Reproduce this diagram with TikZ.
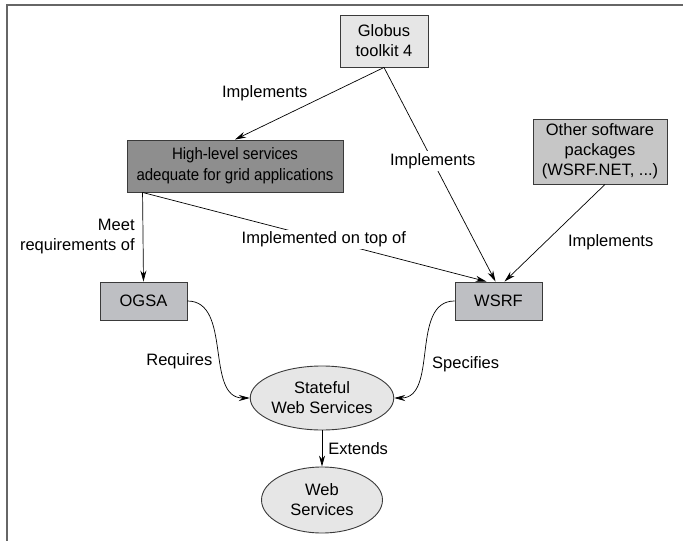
\documentclass[tikz,border=0pt]{standalone}
\usepackage{fontspec}
\setmainfont{Liberation Sans}
\newfontfamily\narrowfont[FakeStretch=0.91]{Liberation Sans}
\usetikzlibrary{arrows.meta,shapes.geometric}
\definecolor{edgegray}{HTML}{3A3A3A}
\definecolor{lightfill}{HTML}{E6E6E6}
\definecolor{darkfill}{HTML}{8E8E8E}
\definecolor{midfill}{HTML}{C6C6C6}
\definecolor{specfill}{HTML}{BEBFC3}
\begin{document}
\begin{tikzpicture}[x=1pt,y=-1pt,
    font=\fontsize{16.5}{20}\selectfont,
    >={Stealth[length=11pt,width=6pt]},
    block/.style ={rectangle, draw=edgegray, line width=0.9pt, align=center, inner sep=0pt},
    service/.style ={ellipse, draw=edgegray, line width=0.9pt, fill=lightfill, align=center,
                     inner sep=0pt, minimum width=121pt, minimum height=64pt},
    link/.style ={line width=0.7pt, ->},
    ontag/.style ={fill=white, inner sep=2pt}]
   \useasboundingbox (0,0) rectangle (683,541);
   % frame of the figure
   \draw[line width=1.6pt, black!60] (7,541) -- (7,5) -- (683,5);
   % boxes
   \node[block, fill=lightfill, minimum width=88pt, minimum height=52pt] (globus) at (384,41) {Globus\\toolkit 4};
   \node[block, fill=darkfill, minimum width=216pt, minimum height=52pt, font=\narrowfont\fontsize{16.5}{21}\selectfont] (hls) at (235,166) {High-level services\\adequate for grid applications};
   \node[block, fill=midfill, minimum width=134pt, minimum height=65pt] (other) at (600,151.5) {Other software\\packages\\(WSRF.NET, ...)};
   \node[block, fill=specfill, minimum width=87pt, minimum height=38pt] (ogsa) at (143.5,301) {OGSA};
   \node[block, fill=specfill, minimum width=87pt, minimum height=38pt] (wsrf) at (498.5,301) {WSRF};
   \node[service] (stateful) at (322,398) {Stateful\\Web Services};
   \node[service, minimum height=66pt] (web) at (322,500) {Web\\Services};
   % relations
   \draw[link] (globus.south) to node[pos=0.8, above=24pt, inner sep=0pt] {Implements} (hls.north);
   \draw[link] (globus.south) to node[pos=0.437, ontag] {Implements} ([xshift=-3pt]wsrf.north);
   \draw[link] ([xshift=16pt]hls.south west) to node[pos=0.49, left=8pt, align=right, inner sep=0pt] {Meet\\requirements of} (ogsa.north);
   \draw[link] ([xshift=16pt]hls.south west) to node[pos=0.527, ontag] {Implemented on top of} ([xshift=-12pt]wsrf.north);
   \draw[link] ([xshift=5pt]other.south) to node[pos=0.59, right=22pt, inner sep=0pt] {Implements} ([xshift=6pt]wsrf.north);
   \draw[link] (ogsa.east) to[out=0, in=180] node[pos=0.58, left=8pt, inner sep=0pt] {Requires} (stateful.west);
   \draw[link] (wsrf.west) to[out=180, in=0] node[pos=0.6, right=10pt, inner sep=0pt] {Specifies} (stateful.east);
   \draw[link] (stateful.south) to node[pos=0.5, right=6pt, inner sep=0pt] {Extends} (web.north);
\end{tikzpicture}
\end{document}
